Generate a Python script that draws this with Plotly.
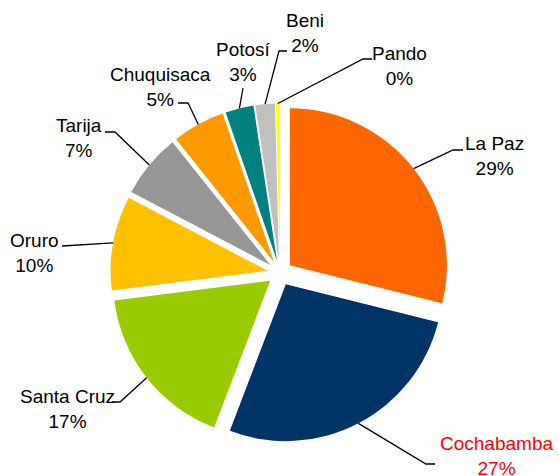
import math
import plotly.graph_objects as go

# ---- data ----
departments = ["La Paz", "Cochabamba", "Santa Cruz", "Oruro", "Tarija",
               "Chuquisaca", "Potosí", "Beni", "Pando"]
shares = [28.9, 26.9, 17.2, 9.7, 6.6, 5.4, 2.9, 2.0, 0.4]
colors = ["#FF6600", "#003366", "#99CC00", "#FFC000", "#969696",
          "#FF9900", "#008080", "#C0C0C0", "#FFFF00"]
label_colors = ["#000000", "#FF0000", "#000000", "#000000", "#000000",
                "#000000", "#000000", "#000000", "#000000"]

# ---- layout (pixels in the 559x476 page) ----
W, H = 559, 476
CX, CY, R, PULL = 280, 273, 157, 0.08
FONT = "Liberation Sans, Arial, sans-serif"

# label block centre, elbow point, end of horizontal segment
label_layout = {
    "La Paz":     ((494, 156), (453, 150), (463, 150)),
    "Cochabamba": ((496, 456), (426, 464), (435, 464)),
    "Santa Cruz": ((67, 409), (120, 402), (112, 402)),
    "Oruro":      ((34, 253), (62, 246), (62, 246)),
    "Tarija":     ((79, 138), (115, 132), (105, 132)),
    "Chuquisaca": ((160, 87), (188, 103), (178, 103)),
    "Potosí":     ((244, 62), (243, 88), (243, 88)),
    "Beni":       ((305, 33), (279, 51), (287, 51)),
    "Pando":      ((399, 66), (363, 59), (372, 59)),
}


def px(x, y):
    return x / W, 1 - y / H


half = R * (1 + PULL)
dom_x = [(CX - half) / W, (CX + half) / W]
dom_y = [(H - CY - half) / H, (H - CY + half) / H]

fig = go.Figure(go.Pie(
    labels=departments,
    values=shares,
    sort=False,
    direction="clockwise",
    rotation=0,
    pull=[PULL] * len(shares),
    marker=dict(colors=colors, line=dict(width=0)),
    textinfo="none",
    hoverinfo="label+percent",
    showlegend=False,
    domain=dict(x=dom_x, y=dom_y),
))

total = sum(shares)
cum = 0.0
annotations = []
shapes = []
for name, v, lc in zip(departments, shares, label_colors):
    mid = (cum + v / 2) / total * 2 * math.pi
    cum += v
    sx = CX + R * (1 + PULL) * math.sin(mid)
    sy = CY - R * (1 + PULL) * math.cos(mid)
    (lx, ly), (ex, ey), (hx, hy) = label_layout[name]
    p0, p1, p2 = px(sx, sy), px(ex, ey), px(hx, hy)
    shapes.append(dict(
        type="path", xref="paper", yref="paper",
        path=f"M {p0[0]} {p0[1]} L {p1[0]} {p1[1]} L {p2[0]} {p2[1]}",
        line=dict(color="#000000", width=1.3),
    ))
    pct = round(v / total * 100)
    ax, ay = px(lx, ly)
    annotations.append(dict(
        x=ax, y=ay, xref="paper", yref="paper",
        text=f"{name}<br>{pct}%", showarrow=False,
        xanchor="center", yanchor="middle", align="center",
        font=dict(family=FONT, size=19, color=lc),
    ))

fig.update_layout(
    width=W, height=H,
    margin=dict(l=0, r=0, t=0, b=0),
    paper_bgcolor="white", plot_bgcolor="white",
    shapes=shapes, annotations=annotations,
)

fig.write_html(
    "out.html",
    config={"displayModeBar": False},
    post_script="document.body.style.margin='0';document.body.style.overflow='hidden';",
)
